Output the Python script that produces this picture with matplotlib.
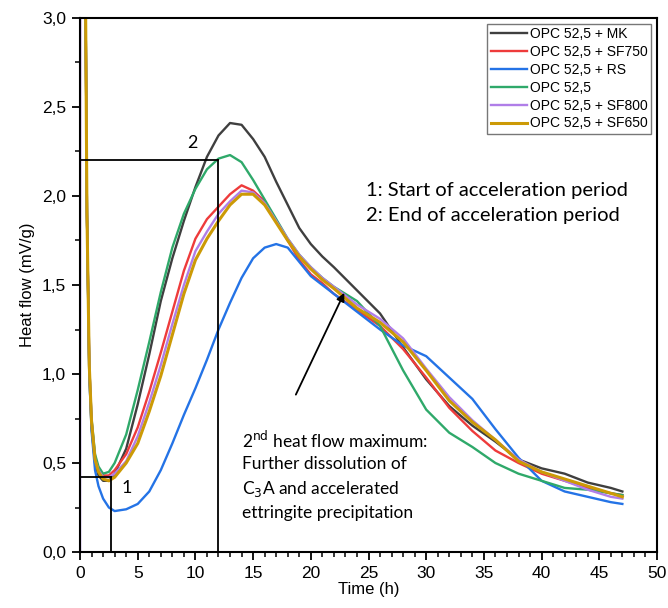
import matplotlib
matplotlib.use("Agg")
import matplotlib.pyplot as plt
from matplotlib.ticker import MultipleLocator, FuncFormatter

# tiempo (h) y flujo de calor (mW/g)
tiempo = [0, 0.02, 0.45, 0.6, 0.8, 1.0, 1.3, 1.6, 2, 2.5,
          3, 4, 5, 6, 7, 8, 9, 10, 11, 12, 13, 14, 15, 16, 17, 18, 19, 20, 21, 22,
          24, 26, 28, 30, 32, 34, 36, 38, 40, 42, 44, 46, 47]

mk = [3.5, 3.5, 3.4, 1.9, 1.0, 0.70, 0.50, 0.43, 0.40, 0.40,
      0.44, 0.58, 0.83, 1.11, 1.41, 1.65, 1.86, 2.05, 2.22, 2.34, 2.41, 2.40, 2.32, 2.22, 2.08,
      1.95, 1.82, 1.73, 1.66, 1.60,
      1.47, 1.34, 1.15, 0.97, 0.82, 0.71, 0.62, 0.52, 0.47, 0.44, 0.39, 0.36, 0.34]

sf750 = [3.5, 3.5, 3.4, 1.9, 1.05, 0.74, 0.53, 0.47, 0.43, 0.43,
         0.46, 0.55, 0.70, 0.90, 1.12, 1.35, 1.58, 1.76, 1.87, 1.94, 2.01, 2.06, 2.03, 1.97, 1.86,
         1.75, 1.64, 1.56, 1.51, 1.45,
         1.36, 1.27, 1.14, 0.98, 0.81, 0.68, 0.57, 0.50, 0.44, 0.40, 0.36, 0.33, 0.32]

rs = [3.5, 3.5, 3.4, 1.9, 1.0, 0.68, 0.46, 0.37, 0.30, 0.25,
      0.23, 0.24, 0.27, 0.34, 0.46, 0.61, 0.77, 0.92, 1.08, 1.25, 1.40, 1.54, 1.65, 1.71, 1.73,
      1.71, 1.63, 1.55, 1.50, 1.45,
      1.35, 1.25, 1.16, 1.10, 0.98, 0.86, 0.69, 0.53, 0.40, 0.34, 0.31, 0.28, 0.27]

opc = [3.5, 3.5, 3.4, 1.9, 1.05, 0.75, 0.55, 0.48, 0.44, 0.45,
       0.50, 0.66, 0.91, 1.18, 1.46, 1.71, 1.90, 2.04, 2.15, 2.21, 2.23, 2.19, 2.09, 1.98, 1.87,
       1.76, 1.67, 1.60, 1.54, 1.49,
       1.41, 1.27, 1.02, 0.80, 0.67, 0.59, 0.50, 0.44, 0.40, 0.36, 0.35, 0.33, 0.32]

sf800 = [0.0, 3.5, 3.4, 1.9, 1.05, 0.73, 0.52, 0.46, 0.42, 0.42,
         0.44, 0.51, 0.65, 0.84, 1.05, 1.28, 1.50, 1.69, 1.80, 1.90, 1.97, 2.03, 2.02, 1.96, 1.86,
         1.76, 1.67, 1.60, 1.54, 1.49,
         1.39, 1.31, 1.20, 1.03, 0.87, 0.74, 0.63, 0.52, 0.45, 0.40, 0.35, 0.31, 0.30]

sf650 = [3.5, 3.5, 3.4, 1.9, 1.05, 0.73, 0.52, 0.45, 0.41, 0.40,
         0.42, 0.50, 0.61, 0.79, 0.99, 1.22, 1.45, 1.64, 1.76, 1.86, 1.95, 2.01, 2.01, 1.95, 1.85,
         1.75, 1.66, 1.59, 1.53, 1.48,
         1.37, 1.29, 1.18, 1.02, 0.85, 0.73, 0.63, 0.51, 0.45, 0.41, 0.37, 0.33, 0.31]

series = [("OPC 52,5 + MK", mk, "#3f3f3f"),
          ("OPC 52,5 + SF750", sf750, "#ee3b3b"),
          ("OPC 52,5 + RS", rs, "#2473e6"),
          ("OPC 52,5", opc, "#2fa96a"),
          ("OPC 52,5 + SF800", sf800, "#b07ee8"),
          ("OPC 52,5 + SF650", sf650, "#cc9a06")]

# puntos de inicio y fin del periodo de aceleracion
inicio = (2.7, 0.42)
fin = (12.0, 2.2)

fig = plt.figure(figsize=(6.68, 6.08), dpi=100)
ax = fig.add_axes([0.1198, 0.0921, 0.8637, 0.8783])

for nombre, valores, color in series:
    lw = 2.2 if nombre.endswith("SF650") else 1.7
    ax.plot(tiempo, valores, color=color, lw=lw, label=nombre)

# lineas de los periodos
for t, v in (inicio, fin):
    ax.plot([0, t], [v, v], color="black", lw=1.3, zorder=5)
    ax.plot([t, t], [0, v], color="black", lw=1.3, zorder=5)

ax.set_xlim(0, 50)
ax.set_ylim(0, 3)
ax.xaxis.set_major_locator(MultipleLocator(5))
ax.xaxis.set_minor_locator(MultipleLocator(1))
ax.yaxis.set_major_locator(MultipleLocator(0.5))
ax.yaxis.set_minor_locator(MultipleLocator(0.25))
ax.yaxis.set_major_formatter(FuncFormatter(lambda v, p: f"{v:.1f}".replace(".", ",")))
ax.tick_params(which="major", direction="out", length=6, width=1.3, labelsize=12.5, pad=4)
ax.tick_params(which="minor", direction="out", length=3.5, width=1.1)
for s in ax.spines.values():
    s.set_linewidth(1.5)

fuente = "Liberation Sans"
for lab in ax.get_xticklabels() + ax.get_yticklabels():
    lab.set_fontfamily(fuente)
ax.set_xlabel("Time (h)", fontsize=12, family=fuente, labelpad=1)
ax.set_ylabel("Heat flow (mV/g)", fontsize=12, family=fuente, labelpad=5)

leg = ax.legend(loc="upper right", prop={"family": fuente, "size": 10},
                frameon=True, fancybox=False, edgecolor="#555555",
                handlelength=2.6, labelspacing=0.28, borderaxespad=0.4,
                handletextpad=0.25, borderpad=0.25)
leg.get_frame().set_linewidth(1.0)

nota = "Lato"
ax.text(9.3, 2.27, "2", fontsize=13, family=nota)
ax.text(3.6, 0.33, "1", fontsize=13, family=nota)
ax.text(24.8, 2.03, "1: Start of acceleration period", fontsize=14.5, family=nota, va="center")
ax.text(24.8, 1.89, "2: End of acceleration period", fontsize=14.5, family=nota, va="center")
ax.text(14.0, 0.69, "2$^{\\mathrm{nd}}$ heat flow maximum:\nFurther dissolution of\n"
        "C$_{3}$A and accelerated\nettringite precipitation",
        fontsize=12.5, family=nota, va="top", linespacing=1.45)
ax.annotate("", xy=(23.0, 1.47), xytext=(18.6, 0.87),
            arrowprops=dict(arrowstyle="-|>", color="black", lw=1.3, mutation_scale=12))

fig.savefig("out.png", dpi=100)
